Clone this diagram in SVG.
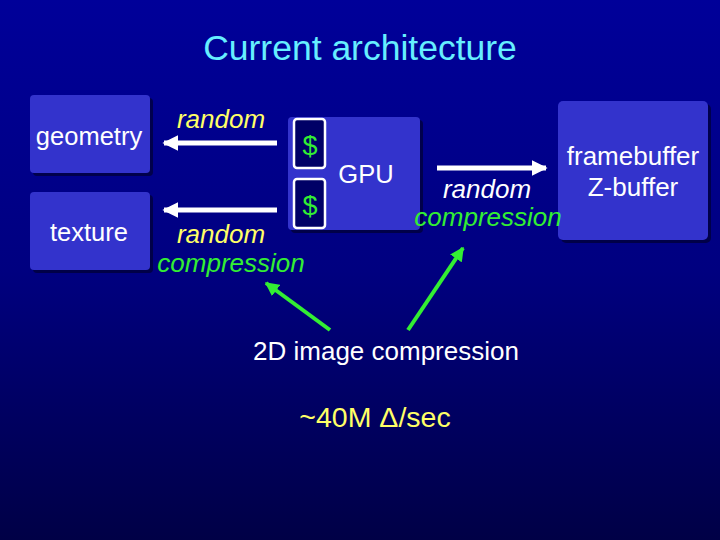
<svg xmlns="http://www.w3.org/2000/svg" width="720" height="540" viewBox="0 0 720 540">
<defs>
<linearGradient id="bg" x1="0" y1="0" x2="0" y2="1">
<stop offset="0" stop-color="#000099"/>
<stop offset="0.5" stop-color="#000080"/>
<stop offset="1" stop-color="#000046"/>
</linearGradient>
<marker id="wh" viewBox="0 0 10 10" refX="9" refY="5" markerWidth="3.2" markerHeight="3.2" orient="auto" markerUnits="strokeWidth">
<path d="M0,0 L10,5 L0,10 Z" fill="#ffffff"/>
</marker>
<marker id="gh" viewBox="0 0 10 10" refX="9" refY="5" markerWidth="3.5" markerHeight="3.5" orient="auto" markerUnits="strokeWidth">
<path d="M0,0 L10,5 L0,10 Z" fill="#33ee33"/>
</marker>
</defs>
<style>
.box{fill:#3333cc;stroke:none}
.shadow{fill:#000022;opacity:0.6}
.cache{fill:#000066;stroke:#ffffff;stroke-width:2.5}
.t{font-family:"Liberation Sans",Arial,sans-serif;fill:#ffffff;text-anchor:middle}
.y{fill:#ffff66}
.g{fill:#33ee33}
.i{font-style:italic}
.warr{stroke:#ffffff;stroke-width:5;fill:none}
.garr{stroke:#33ee33;stroke-width:4;fill:none}
</style>
<rect width="720" height="540" fill="url(#bg)"/>
<text class="t" x="360" y="60" font-size="35.5" style="fill:#66eeff">Current architecture</text>

<g id="geometry">
<rect class="shadow" x="33" y="98" width="120" height="78" rx="4"/>
<rect class="box" x="30" y="95" width="120" height="78" rx="4"/>
<text class="t" x="89" y="145" font-size="25.5">geometry</text>
</g>
<g id="texture">
<rect class="shadow" x="33" y="195" width="120" height="78" rx="4"/>
<rect class="box" x="30" y="192" width="120" height="78" rx="4"/>
<text class="t" x="89" y="241" font-size="25.5">texture</text>
</g>
<g id="gpu">
<rect class="shadow" x="291" y="120" width="132" height="113" rx="4"/>
<rect class="box" x="288" y="117" width="132" height="113" rx="4"/>
<text class="t" x="366" y="183" font-size="25.5">GPU</text>
</g>
<g id="cache1">
<rect class="cache" x="294" y="119" width="31" height="49" rx="3"/>
<text class="t g" x="310" y="155" font-size="27">$</text>
</g>
<g id="cache2">
<rect class="cache" x="294" y="179" width="31" height="49" rx="3"/>
<text class="t g" x="310" y="215" font-size="27">$</text>
</g>
<g id="framebuffer">
<rect class="shadow" x="561" y="104" width="150" height="139" rx="5"/>
<rect class="box" x="558" y="101" width="150" height="139" rx="5"/>
<text class="t" x="633" y="165" font-size="26">framebuffer</text>
<text class="t" x="633" y="196" font-size="26">Z-buffer</text>
</g>

<g id="connectors">
<line class="warr" x1="277" y1="143" x2="164" y2="143" marker-end="url(#wh)"/>
<line class="warr" x1="277" y1="210" x2="164" y2="210" marker-end="url(#wh)"/>
<line class="warr" x1="437" y1="168" x2="546" y2="168" marker-end="url(#wh)"/>
<line class="garr" x1="330" y1="330" x2="266" y2="283" marker-end="url(#gh)"/>
<line class="garr" x1="408" y1="330" x2="463" y2="248" marker-end="url(#gh)"/>
</g>

<text class="t y i" x="221" y="128" font-size="26">random</text>
<text class="t y i" x="221" y="243" font-size="26">random</text>
<text class="t g i" x="231" y="272" font-size="26">compression</text>
<text class="t i" x="487" y="198" font-size="26">random</text>
<text class="t g i" x="488" y="226" font-size="26">compression</text>
<text class="t" x="386" y="360" font-size="26">2D image compression</text>
<text class="t y" x="375" y="427" font-size="28.5">~40M Δ/sec</text>
</svg>
